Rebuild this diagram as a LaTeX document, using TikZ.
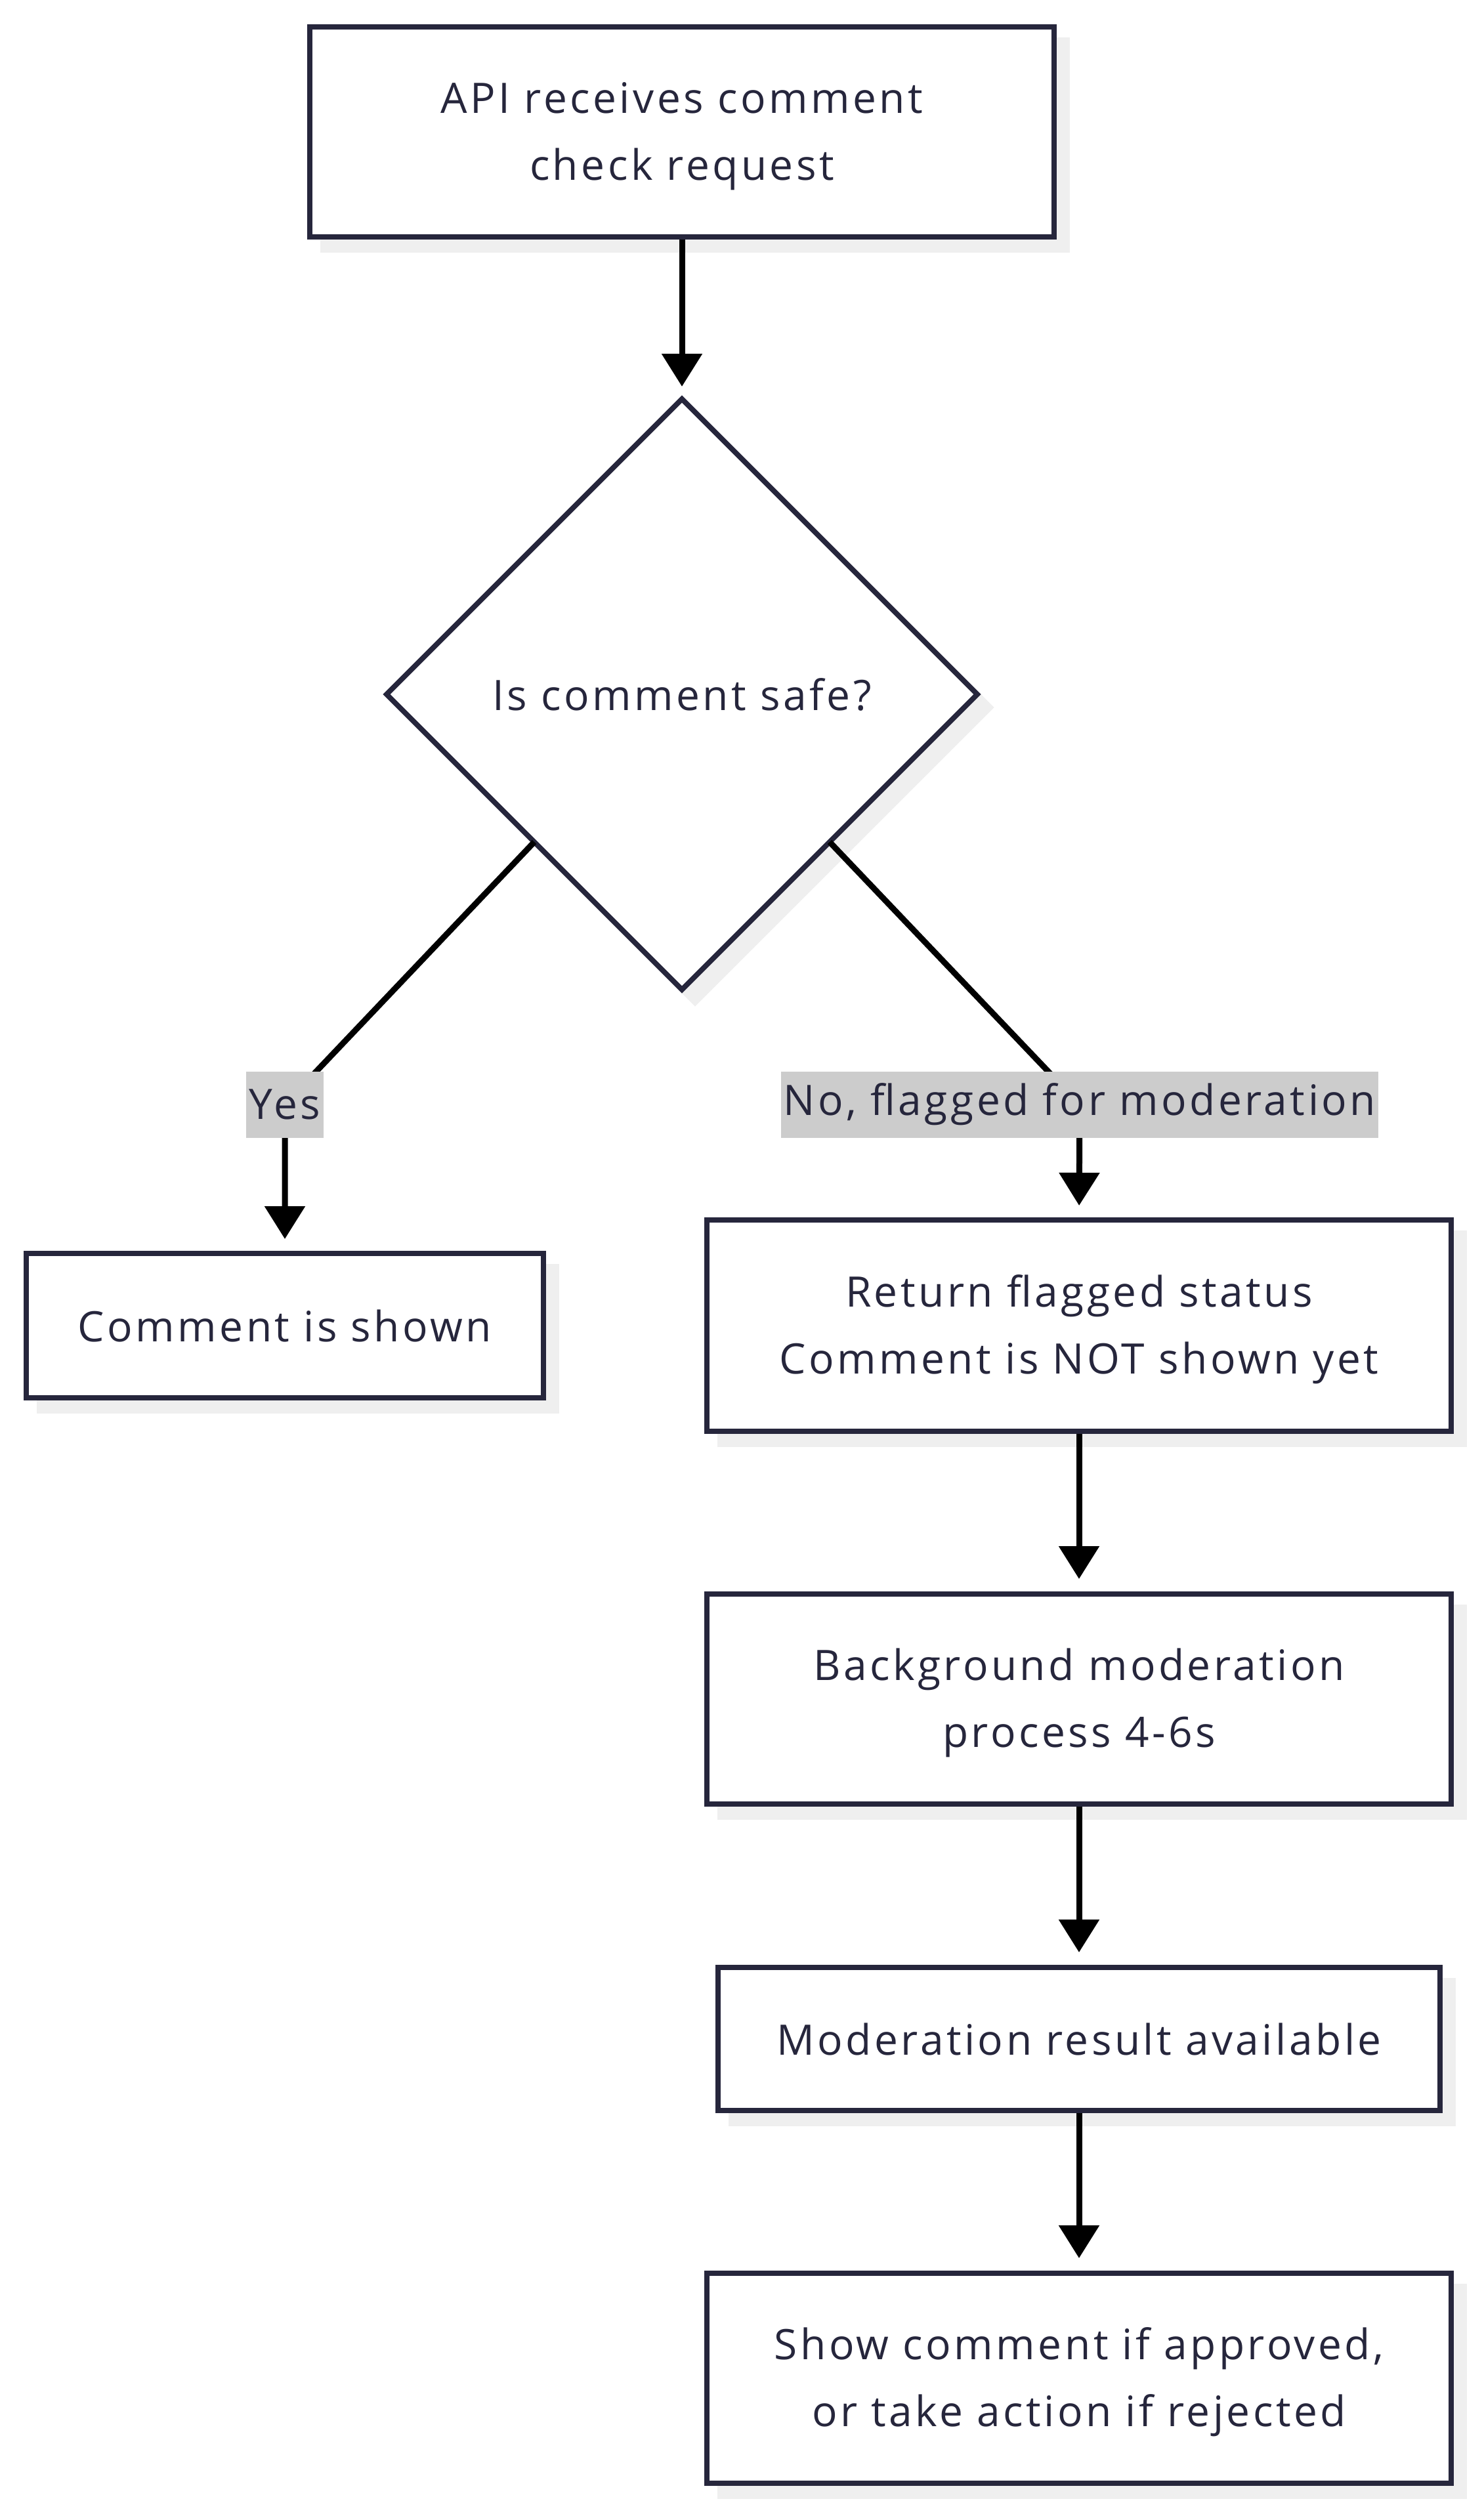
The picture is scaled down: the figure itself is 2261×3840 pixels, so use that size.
\documentclass[tikz,border=0pt]{standalone}
\usepackage{fontspec}
\setmainfont{Open Sans}[LetterSpace=7]
\usetikzlibrary{arrows.meta,shapes.geometric}
\definecolor{ink}{RGB}{38,38,60}
\definecolor{shade}{RGB}{239,239,239}
\definecolor{lblbg}{RGB}{204,204,204}
\newcommand\topfix{\rule{0pt}{61pt}}
\begin{document}
\begin{tikzpicture}[x=1pt,y=-1pt,
  font=\fontsize{64}{102}\selectfont,
  box/.style={draw=ink, line width=8pt, fill=white, text=ink, align=center,
    inner sep=0pt,
    preaction={fill=shade, draw=shade, transform canvas={shift={(20pt,-20pt)}}}},
  lbl/.style={fill=lblbg, text=ink, inner sep=0pt},
  edge/.style={line width=9pt, black},
  arr/.style={edge, -{Triangle[length=50pt,width=60pt]}}
]
\useasboundingbox (0,0) rectangle (2261,3840);

\node[box, minimum width=1134pt, minimum height=320pt] (api) at (1039,201)
  {\topfix API receives comment\\check request};
\node[box, diamond, aspect=1, minimum width=900pt, minimum height=900pt, outer sep=0pt] (dec) at (1039,1058)
  {Is comment safe?};
\node[box, minimum width=788pt, minimum height=220pt] (shown) at (434,2020)
  {Comment is shown};
\node[box, minimum width=1134pt, minimum height=322pt] (ret) at (1644,2020)
  {\topfix Return flagged status\\Comment is NOT shown yet};
\node[box, minimum width=1134pt, minimum height=320pt] (bg) at (1644,2589)
  {\topfix Background moderation\\process 4-6s};
\node[box, minimum width=1100pt, minimum height=218pt] (res) at (1644,3107)
  {Moderation result available};
\node[box, minimum width=1134pt, minimum height=320pt] (act) at (1644,3624)
  {\topfix Show comment if approved,\\or take action if rejected};

\coordinate (cy) at (434,1683);
\coordinate (cn) at (1645,1683);

\draw[arr, shorten >=19pt] (api.south) -- (dec.north);
\draw[arr, shorten >=18pt] (dec.south west) -- (cy) -- (shown.north);
\draw[arr, shorten >=18pt] (dec.south east) -- (cn) -- (ret.north);
\draw[arr, shorten >=19pt] (ret.south) -- (bg.north);
\draw[arr, shorten >=19pt] (bg.south) -- (res.north);
\draw[arr, shorten >=19pt] (res.south) -- (act.north);

\node[lbl, minimum width=118pt, minimum height=101pt] (ly) at (cy) {Yes};
\node[lbl, minimum width=910pt, minimum height=101pt] (ln) at (cn) {No, flagged for moderation};
\end{tikzpicture}
\end{document}
